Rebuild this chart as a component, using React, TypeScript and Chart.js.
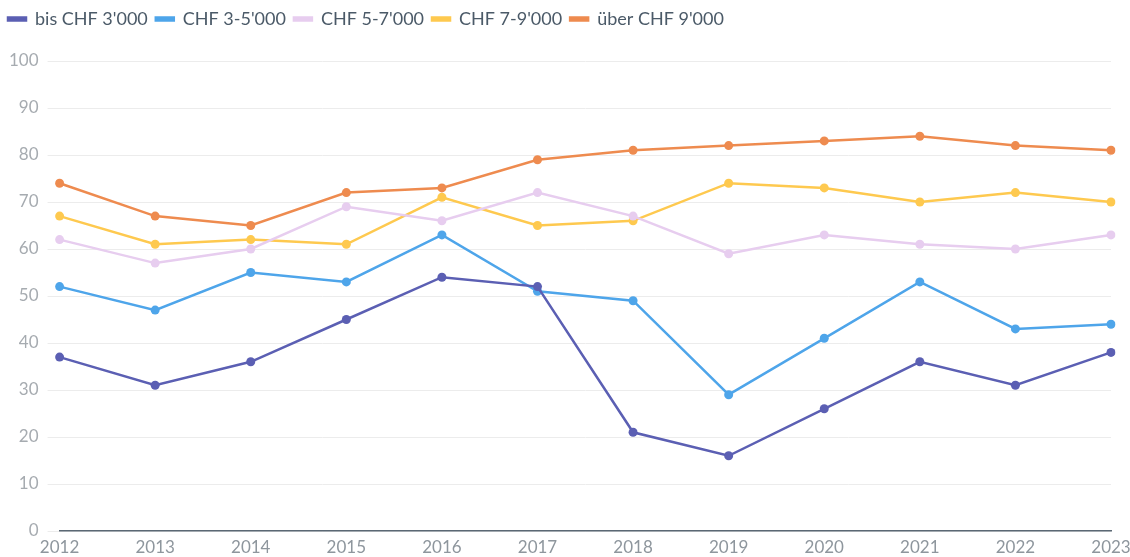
import React, { useEffect, useRef } from "react";
import { Chart, registerables } from "chart.js";

Chart.register(...registerables);

const years = ["2012", "2013", "2014", "2015", "2016", "2017", "2018", "2019", "2020", "2021", "2022", "2023"];
const bis3000 = [37, 31, 36, 45, 54, 52, 21, 16, 26, 36, 31, 38];
const chf3to5 = [52, 47, 55, 53, 63, 51, 49, 29, 41, 53, 43, 44];
const chf5to7 = [62, 57, 60, 69, 66, 72, 67, 59, 63, 61, 60, 63];
const chf7to9 = [67, 61, 62, 61, 71, 65, 66, 74, 73, 70, 72, 70];
const ueber9000 = [74, 67, 65, 72, 73, 79, 81, 82, 83, 84, 82, 81];

const seriesNames = ["bis CHF 3'000", "CHF 3-5'000", "CHF 5-7'000", "CHF 7-9'000", "über CHF 9'000"];
const seriesColors = ["#5b5fb3", "#4ea5ea", "#e7cdef", "#fec94f", "#ee8b4f"];

const legendSpacer = {
  id: "legendSpacer",
  beforeInit(chart: any) {
    const origFit = chart.legend.fit;
    chart.legend.fit = function () {
      origFit.bind(this)();
      this.height += 23;
    };
  },
};

export default function App() {
  const ref = useRef<HTMLCanvasElement | null>(null);
  useEffect(() => {
    document.body.style.margin = "0";
    const series = [bis3000, chf3to5, chf5to7, chf7to9, ueber9000];
    const chart = new Chart(ref.current as HTMLCanvasElement, {
      type: "line",
      data: {
        labels: years,
        datasets: series.map((d, i) => ({
          label: seriesNames[i],
          data: d,
          borderColor: seriesColors[i],
          backgroundColor: seriesColors[i],
          pointBackgroundColor: seriesColors[i],
          pointBorderColor: seriesColors[i],
          borderWidth: 2.5,
          pointRadius: 4.5,
          pointBorderWidth: 0,
          tension: 0,
        })),
      },
      plugins: [legendSpacer],
      options: {
        animation: false,
        responsive: true,
        maintainAspectRatio: false,
        layout: { padding: { left: 0, right: 0, top: 2, bottom: 0 } },
        plugins: {
          tooltip: { enabled: false },
          legend: {
            position: "top",
            align: "start",
            labels: {
              boxWidth: 18,
              boxHeight: 3,
              padding: 8,
              color: "#4b5a68",
              font: { family: "Lato", size: 18 },
            },
          },
        },
        scales: {
          x: {
            offset: false,
            grid: { display: false, drawTicks: false, tickLength: 0 },
            border: { display: true, color: "#5b6874", width: 1.5 },
            ticks: { color: "#8e969d", padding: 6, font: { family: "Lato", size: 17 } },
            afterFit(scale: any) {
              scale.height = 26;
              scale.paddingRight = 19;
            },
          },
          y: {
            min: 0,
            max: 100,
            ticks: { stepSize: 10, color: "#a6abb0", padding: 9, font: { family: "Lato", size: 17 } },
            grid: { color: "#ececec", tickLength: 12, drawTicks: true },
            border: { display: false },
          },
        },
      },
    });
    return () => chart.destroy();
  }, []);
  return (
    <div style={{ position: "fixed", left: 0, top: 0, width: 1130, height: 557 }}>
      <canvas ref={ref} />
    </div>
  );
}
